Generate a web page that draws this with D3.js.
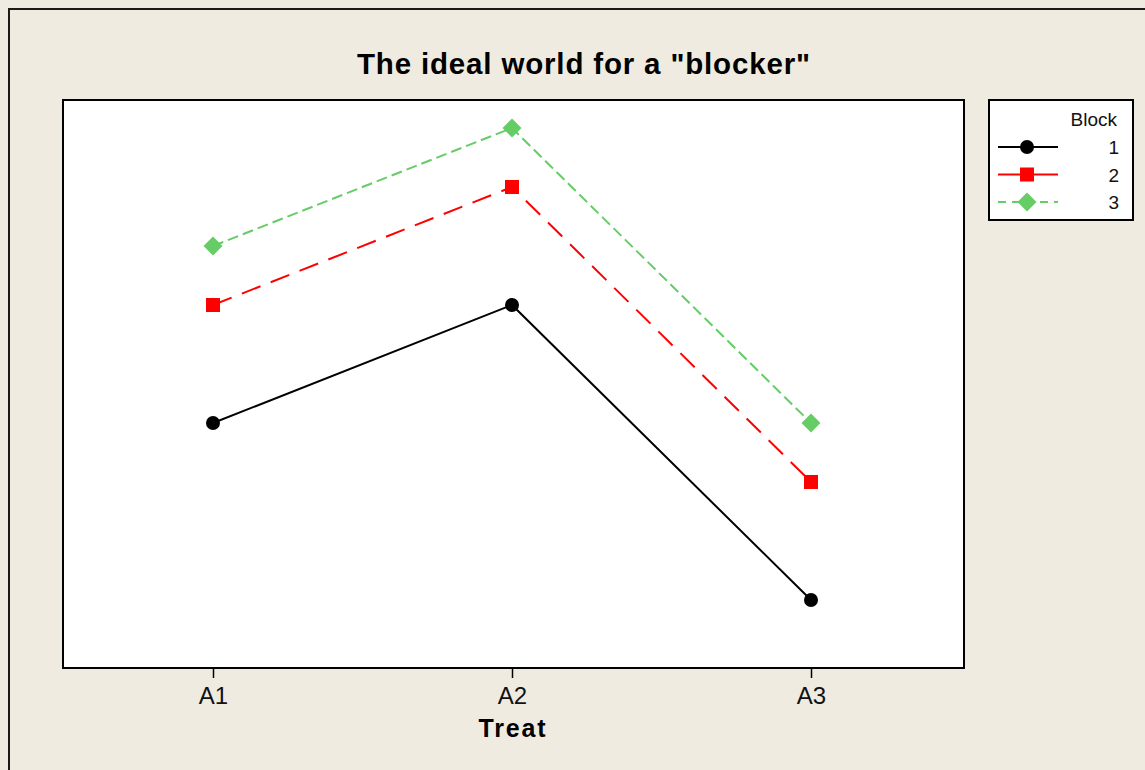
<!DOCTYPE html>
<html><head><meta charset="utf-8">
<script src="https://cdn.jsdelivr.net/npm/d3@7"></script>
<style>
body{margin:0;background:#EFEBE1;}
svg{display:block;}
</style></head>
<body>
<script>
const categories = ["A1","A2","A3"];
const blocks = ["1","2","3"];
const block1 = [5, 7, 2];
const block2 = [7, 9, 4];
const block3 = [8, 10, 5];
const seriesValues = [block1, block2, block3];
const colors = ["#000000","#FF0000","#66CC66"];
const dashes = [null, "20,11", "11,5"];

const FONT = "'Liberation Sans', Arial, sans-serif";
const W = 1145, H = 770;
const svg = d3.select("body").append("svg").attr("width", W).attr("height", H);
svg.append("rect").attr("x",0).attr("y",0).attr("width",W).attr("height",H).attr("fill","#EFEBE1");
svg.append("rect").attr("x",9).attr("y",9).attr("width",W+20).attr("height",H+20)
  .attr("fill","none").attr("stroke","#1a1a1a").attr("stroke-width",2);

const pl = 63, pr = 964, pt = 100, pb = 668;
svg.append("rect").attr("x",pl).attr("y",pt).attr("width",pr-pl).attr("height",pb-pt)
  .attr("fill","#fff").attr("stroke","#000").attr("stroke-width",2);

const x = d3.scalePoint().domain(categories).range([63.5, 960.5]).padding(0.5);
const y = d3.scaleLinear().domain([0.847, 10.475]).range([pb, pt]);

const xAxis = svg.append("g").attr("transform",`translate(0,${pb})`)
  .call(d3.axisBottom(x).tickSize(10).tickPadding(0));
xAxis.select(".domain").remove();
xAxis.selectAll("line").attr("stroke","#000").attr("stroke-width",1.5);
xAxis.selectAll("text").attr("dy",null).attr("y",36)
  .attr("font-family",FONT).attr("font-size",24).attr("fill","#111");

svg.append("text").attr("x",512).attr("y",737).attr("text-anchor","middle")
  .attr("font-family",FONT).attr("font-weight","bold").attr("font-size",25)
  .attr("textLength",67).attr("lengthAdjust","spacing").text("Treat");

svg.append("text").attr("x",583.5).attr("y",74).attr("text-anchor","middle")
  .attr("font-family",FONT).attr("font-weight","bold").attr("font-size",29.5)
  .attr("textLength",453).attr("lengthAdjust","spacing").text('The ideal world for a "blocker"');

function marker(g, k, cx, cy){
  if(k===0){
    g.append("circle").attr("cx",cx).attr("cy",cy).attr("r",7).attr("fill",colors[k]);
  } else if(k===1){
    g.append("rect").attr("x",cx-7).attr("y",cy-7).attr("width",14).attr("height",14).attr("fill",colors[k]);
  } else {
    g.append("path").attr("d",`M${cx},${cy-9.5}L${cx+9.5},${cy}L${cx},${cy+9.5}L${cx-9.5},${cy}Z`).attr("fill",colors[k]);
  }
}

const line = d3.line().x((d,i)=>x(categories[i])).y(d=>y(d));
seriesValues.forEach((vals,k)=>{
  svg.append("path").datum(vals).attr("d",line).attr("fill","none")
    .attr("stroke",colors[k]).attr("stroke-width",2).attr("stroke-dasharray",dashes[k]);
  const g = svg.append("g");
  vals.forEach((v,i)=>marker(g,k,x(categories[i]),y(v)));
});

// legend
const lg = svg.append("g");
lg.append("rect").attr("x",989).attr("y",100).attr("width",144).attr("height",120)
  .attr("fill","#fff").attr("stroke","#000").attr("stroke-width",2);
lg.append("text").attr("x",1117).attr("y",126).attr("text-anchor","end")
  .attr("font-family",FONT).attr("font-size",19).attr("fill","#111").text("Block");
blocks.forEach((b,k)=>{
  const yy = 147 + k*27.5;
  lg.append("line").attr("x1",998).attr("x2",1058).attr("y1",yy).attr("y2",yy)
    .attr("stroke",colors[k]).attr("stroke-width",2)
    .attr("stroke-dasharray", k===1 ? "22,4,34" : (k===2 ? "8,6" : null));
  marker(lg, k, 1027, yy);
  lg.append("text").attr("x",1119).attr("y",yy+7).attr("text-anchor","end")
    .attr("font-family",FONT).attr("font-size",19).attr("fill","#111").text(b);
});
</script>
</body></html>
